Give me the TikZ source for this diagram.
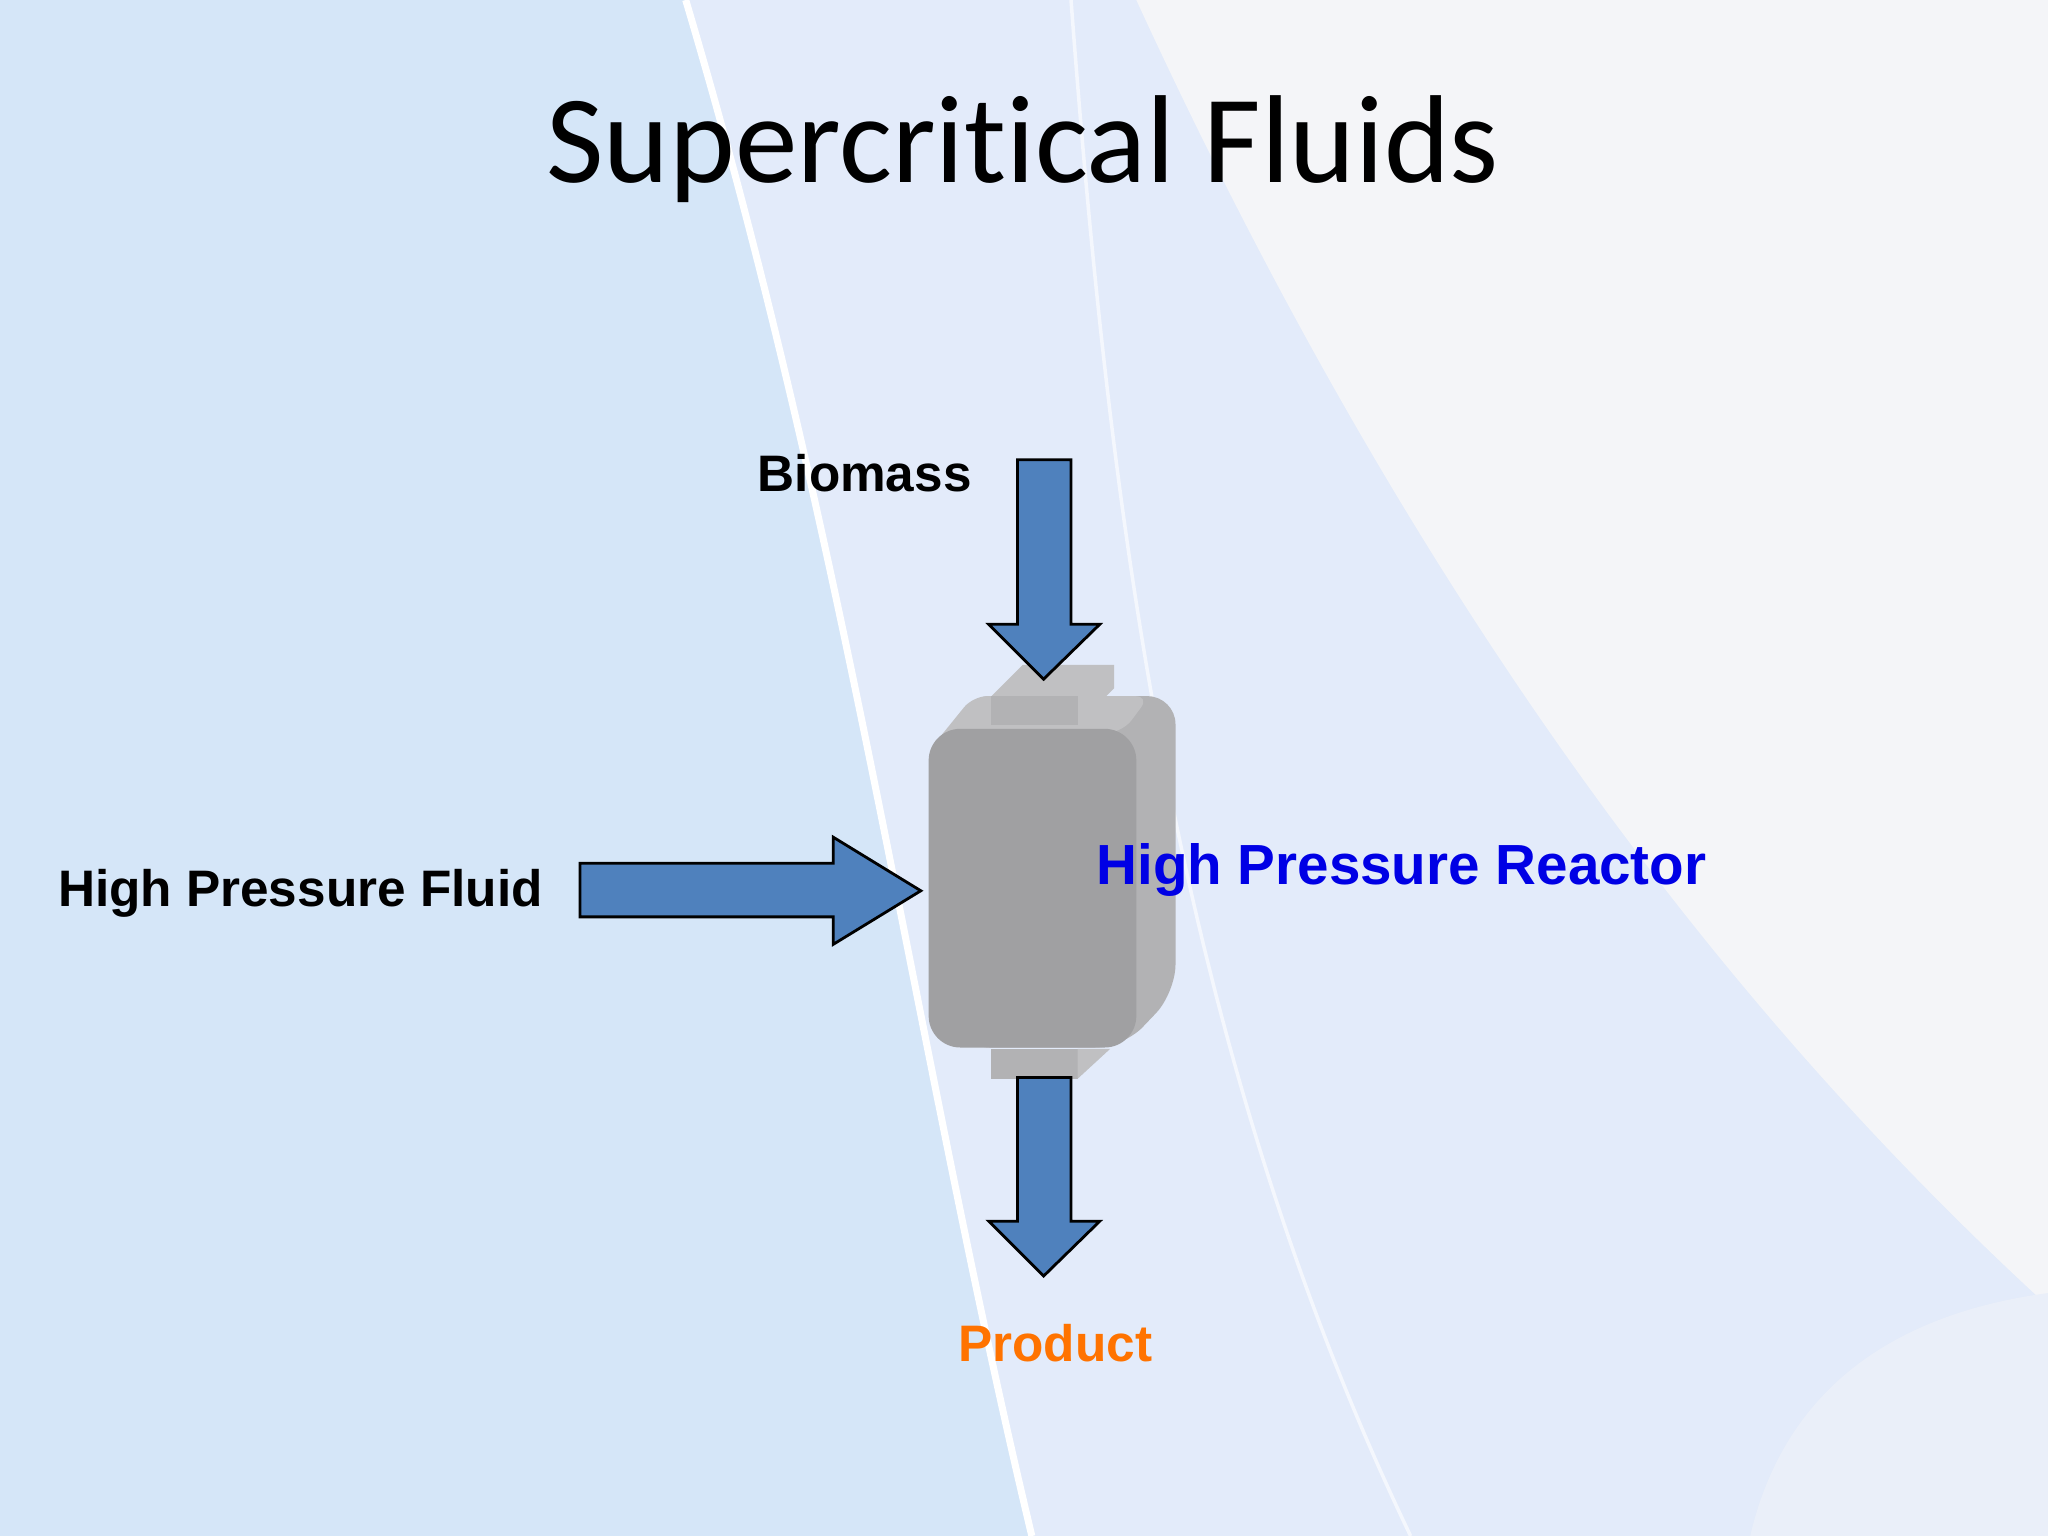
\documentclass[tikz,border=0pt]{standalone}
\usepackage{fontspec}
\setmainfont{Liberation Sans}
\newfontfamily\titlefont[Ligatures=CommonOff]{Carlito}
\begin{document}
\begin{tikzpicture}[x=0.013061cm,y=-0.013061cm,
  arr/.style={fill=arrblue,draw=black,line width=0.8pt,line join=miter},
  lbl/.style={font=\bfseries\fontsize{14.6}{17}\selectfont}]
\definecolor{arrblue}{HTML}{4F81BD}
\definecolor{bg}{HTML}{D5E6F8}
\definecolor{band}{HTML}{E3EBFA}
\definecolor{wht}{HTML}{F4F5F8}
\definecolor{gA}{HTML}{A0A0A2}
\definecolor{gB}{HTML}{B2B2B4}
\definecolor{gC}{HTML}{C0C0C2}
\useasboundingbox (0,0) rectangle (1568,1176);
\fill[bg] (0,0) rectangle (1568,1176);
\fill[band] (525,0) .. controls (650,420) and (700,800) .. (790,1176) -- (1568,1176) -- (1568,0) -- cycle;
\fill[wht] (870,0) .. controls (1100,500) and (1350,800) .. (1568,1000) -- (1568,0) -- cycle;
\fill[color=band!60!wht] (1340,1176) .. controls (1360,1090) and (1420,1010) .. (1568,990) -- (1568,1176) -- cycle;
\draw[white,line width=2pt] (525,0) .. controls (650,420) and (700,800) .. (790,1176);
\draw[white!60!band,line width=1pt] (820,0) .. controls (850,400) and (900,800) .. (1080,1176);
\node[font=\titlefont\fontsize{35.6}{42}\selectfont] (title) at (783,114) {Supercritical Fluids};
% reactor body
\fill[gB,rounded corners=8pt] (736,533) -- (900,533) -- (900,760) -- (860,802) -- (736,802) -- cycle;
\fill[gC,rounded corners=4pt] (711,575) -- (745,533) -- (880,533) -- (860,560) -- cycle;
\fill[gA,rounded corners=9pt] (711,558) rectangle (870,802);
% top nozzle
\fill[gC] (759,533) -- (783,509) -- (853,509) -- (853,527) -- (825,555) -- (759,555) -- cycle;
\fill[gB] (759,533) rectangle (825,555);
% bottom nozzle
\fill[gB] (759,803) rectangle (825,826);
\fill[gC] (825,803) -- (850,803) -- (825,826) -- cycle;
\node (reactor) at (790,680) {};
% arrows
\draw[arr] (779,352) -- (820,352) -- (820,478) -- (842,478) -- (799,520) -- (757,478) -- (779,478) -- cycle;
\draw[arr] (444,661) -- (638,661) -- (638,641) -- (705,682) -- (638,723) -- (638,702) -- (444,702) -- cycle;
\draw[arr] (779,825) -- (820,825) -- (820,935) -- (842,935) -- (799,977) -- (757,935) -- (779,935) -- cycle;
\node[lbl] (bio) at (662,362) {Biomass};
\node[lbl] (hpf) at (230,684) {High Pressure Fluid};
\node[text=blue!90!black,font=\bfseries\fontsize{16.1}{19}\selectfont] (hpr) at (1073,666) {High Pressure Reactor};
\node[lbl,text=orange!90!red] (prod) at (808,1028) {Product};
\end{tikzpicture}
\end{document}
